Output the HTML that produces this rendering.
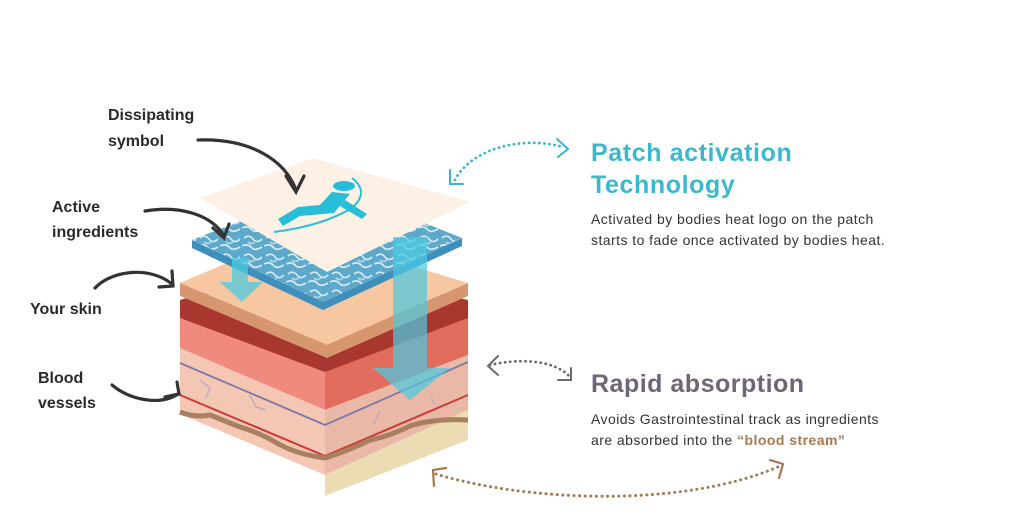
<!DOCTYPE html>
<html><head><meta charset="utf-8"><style>
html,body{margin:0;padding:0;background:#fff;}
svg{display:block}
</style></head><body>
<svg width="1024" height="525" viewBox="0 0 1024 525" xmlns="http://www.w3.org/2000/svg">
<defs>
<pattern id="tex" width="22" height="18" patternUnits="userSpaceOnUse">
<rect width="22" height="18" fill="#5ea9cb"/>
<path d="M2,4 q5,-4 9,1 q4,5 9,0 M0,12 q6,-3 10,2 q3,3 10,-1" stroke="#d6ecf5" stroke-width="1.6" fill="none"/>
<path d="M6,8 q3,3 7,0" stroke="#a9d3e6" stroke-width="2" fill="none"/>
</pattern>
</defs>

<!-- red block top surface -->
<polygon points="180,300 300,262 468,300 468,320 325,374 180,320" fill="#a8382f"/>
<!-- faces -->
<polygon points="180,318 325,372 325,410 180,348" fill="#f08a7f"/>
<polygon points="468,318 325,372 325,410 468,355" fill="#e26c5e"/>
<polygon points="180,348 325,410 325,475 180,414" fill="#f4c6b4"/>
<polygon points="468,355 325,410 325,475 468,410" fill="#eab8a6"/>
<polygon points="468,410 325,475 325,496 468,440" fill="#ecdcb3"/>
<path d="M180,363 L325,425 L468,362" stroke="#7e78a8" stroke-width="1.8" fill="none"/>
<path d="M180,395 L325,456 L468,395" stroke="#cc3a34" stroke-width="2" fill="none"/>
<path d="M180,412 q15,6 30,3 q15,6 30,12 q20,6 35,15 q20,12 50,16 q25,-8 45,-18 q20,-4 40,-14 q25,-8 58,-6" stroke="#a8805f" stroke-width="5" fill="none"/>
<path d="M200,380 l10,8 l-4,10 M250,395 l6,12 l10,3 M380,410 l-6,14 M430,395 l5,10" stroke="#b8a8c8" stroke-width="1.2" fill="none"/>

<!-- skin layer -->
<polygon points="180,283 180,296 327,358 468,296 468,283 327,345" fill="#d69670"/>
<polygon points="180,283 300,232 468,283 327,345" fill="#f6c7a1"/>

<!-- blue sheet -->
<polygon points="192,240 192,248 323,310 462,246 462,238 323,302" fill="#3f8fbd"/>
<polygon points="192,240 330,185 462,238 323,302" fill="url(#tex)"/>

<!-- small arrow -->
<polygon points="232,258 248,258 248,282 263,282 242,302 220,282 232,282" fill="#4cc9df" opacity="0.75"/>

<!-- cream patch -->
<polygon points="200,198 313,158 470,202 327,272" fill="#fdf0e4"/>

<!-- icon -->
<g fill="#27bfd8" stroke="none">
<ellipse cx="344" cy="186" rx="11" ry="5"/>
<path d="M332,192 L350,194 L334,213 L300,216 L283,226 L278,219 L298,207 L320,205 Z"/>
<path d="M345,200 L367,214 L362,219 L340,206 Z"/>
</g>
<path d="M352,178 q18,14 0,30 q-30,18 -78,24" stroke="#27bfd8" stroke-width="2" fill="none"/>

<!-- big arrow -->
<polygon points="393,237 427,237 427,368 450,368 410,400 373,368 393,368" fill="#4cc9df" opacity="0.72"/>

<!-- left labels -->
<g font-family="Liberation Sans, sans-serif" font-weight="bold" font-size="16" fill="#2a2a2a">
<text x="108" y="120">Dissipating</text>
<text x="108" y="146">symbol</text>
<text x="52" y="212">Active</text>
<text x="52" y="237">ingredients</text>
<text x="30" y="314">Your skin</text>
<text x="38" y="383">Blood</text>
<text x="38" y="408">vessels</text>
</g>
<g stroke="#333" stroke-width="3.2" fill="none" stroke-linecap="round">
<path d="M198,140 C250,138 285,160 296,190"/>
<path d="M286,176 L296,192 L304,176"/>
<path d="M145,211 C180,205 212,215 224,236"/>
<path d="M213,228 L224,238 L229,224"/>
<path d="M95,288 C112,270 150,266 172,284"/>
<path d="M159,287 L173,286 L172,271"/>
<path d="M112,385 C130,400 160,406 178,394"/>
<path d="M165,397 L179,394 L177,382"/>
</g>

<!-- dotted connectors -->
<g fill="none" stroke-linecap="round">
<path d="M455,180 C470,150 520,135 563,147" stroke="#36b6cc" stroke-width="2.8" stroke-dasharray="0.1 5"/>
<path d="M557,139 L568,149 L558,157 M450,170 L450,184 L463,184" stroke="#36b6cc" stroke-width="2"/>
<path d="M490,365 C520,358 555,360 570,377" stroke="#6e6577" stroke-width="2.8" stroke-dasharray="0.1 5"/>
<path d="M498,356 L488,366 L498,375 M571,368 L571,380 L558,380" stroke="#6e6577" stroke-width="2"/>
<path d="M436,474 C520,500 680,510 780,466" stroke="#a8784e" stroke-width="3" stroke-dasharray="0.1 5.5"/>
<path d="M434,486 L433,470 L446,468 M770,460 L783,464 L779,478" stroke="#a8784e" stroke-width="2.2"/>
</g>

<!-- right text -->
<g font-family="Liberation Sans, sans-serif">
<text x="591" y="161" font-size="25" font-weight="bold" fill="#3ab8cc" letter-spacing="0.6">Patch activation</text>
<text x="591" y="193" font-size="25" font-weight="bold" fill="#3ab8cc" letter-spacing="0.6">Technology</text>
<text x="591" y="224" font-size="14" fill="#333" letter-spacing="0.45">Activated by bodies heat logo on the patch</text>
<text x="591" y="245" font-size="14" fill="#333" letter-spacing="0.45">starts to fade once activated by bodies heat.</text>
<text x="591" y="392" font-size="25" font-weight="bold" fill="#6e6577" letter-spacing="0.5">Rapid absorption</text>
<text x="591" y="424" font-size="14" fill="#333" letter-spacing="0.45">Avoids Gastrointestinal track as ingredients</text>
<text x="591" y="445" font-size="14" fill="#333" letter-spacing="0.45">are absorbed into the <tspan fill="#a8784e" font-weight="bold">“blood stream”</tspan></text>
</g>
</svg>
</body></html>
